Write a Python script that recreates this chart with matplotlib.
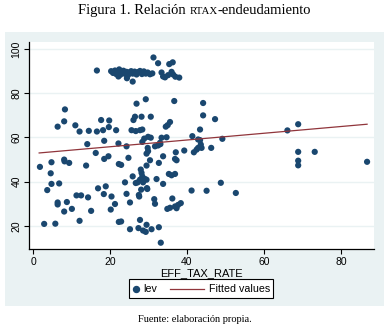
import matplotlib
matplotlib.use("Agg")
import matplotlib.pyplot as plt
from matplotlib.patches import Rectangle
from matplotlib.lines import Line2D

# ---- data ----
eff_tax_rate = [
    1.8, 4.8, 4.6, 4.8, 6.8, 3.7, 6.4, 6.4, 8.8, 8.1, 10.1, 2.9, 5.8, 12.1, 8.1, 8.2, 9.4, 13.8,
    11.3, 12.5, 14.3, 15.1, 16.9, 18.9, 18.4, 20.4, 20.2, 21.3, 16.3, 18.5, 19.6, 14.1, 18.5, 22.2,
    8.3, 8.1, 6.4, 11.0, 12.1, 14.5, 16.6, 17.7, 18.2, 19.8, 19.7, 21.6, 16.6, 22.3, 22.9, 22.3,
    24.3, 24.8, 29.8, 29.9, 29.5, 30.4, 31.7, 32.5, 33.1, 33.8, 32.7, 29.5, 37.1, 36.9, 37.3, 39.3,
    41.8, 42.5, 42.9, 43.6, 25.9, 23.9, 28.0, 28.2, 28.4, 29.1, 27.8, 27.2, 26.7, 28.6, 29.5, 32.1,
    33.8, 35.3, 36.0, 36.9, 24.3, 28.1, 29.7, 27.6, 25.2, 31.5, 31.7, 36.2, 34.9, 36.9, 37.3, 37.7,
    38.4, 41.2, 22.9, 27.8, 25.2, 27.4, 28.6, 29.3, 30.8, 29.5, 32.7, 33.2, 29.6, 27.5, 35.6,
    31.3, 32.5, 35.4, 36.3, 33.4, 33.8, 34.3, 35.1, 36.0, 36.4, 37.0, 38.0, 25.9, 26.9, 29.3, 36.7,
    44.2, 26.5, 26.1, 28.2, 30.6, 44.2, 25.6, 26.7, 27.8, 28.4, 34.5, 35.0, 35.6, 41.4, 42.9, 28.9,
    29.9, 30.6, 33.4, 34.7, 28.4, 33.0, 47.3, 43.4, 43.4, 49.2, 43.8, 46.3, 66.1, 68.9, 68.9, 73.2,
    68.9, 68.9, 86.8, 48.8, 45.1, 52.7,
    20.3, 20.8, 21.3, 21.6, 22.0, 22.4, 22.7, 23.1, 23.5, 23.9, 24.3, 24.7, 25.0, 25.5, 25.9, 26.4,
    26.9, 27.3, 27.8, 28.3, 28.8, 29.3, 29.8, 30.4, 31.0, 24.4, 22.2,
]
lev = [
    46.7, 48.8, 43.8, 39.0, 39.2, 36.2, 30.6, 29.7, 30.8, 26.5, 27.7, 20.9, 21.0, 22.3, 50.0, 49.2, 48.5, 47.3,
    33.8, 33.8, 32.9, 26.8, 37.0, 37.9, 34.4, 33.3, 27.4, 29.9, 53.0, 50.3, 51.5, 57.0, 58.5, 57.3,
    72.7, 67.3, 64.9, 65.5, 62.7, 63.0, 62.7, 67.9, 63.3, 67.7, 64.7, 63.3, 90.3, 48.0, 47.6, 21.8,
    56.0, 50.8, 55.3, 53.8, 52.7, 49.7, 56.0, 56.4, 57.0, 51.5, 48.5, 47.3, 53.3, 50.3, 49.7, 54.1,
    53.3, 54.5, 55.3, 56.8, 42.4, 39.7, 45.5, 44.0, 42.4, 41.2, 40.9, 39.7, 39.4, 39.7, 40.9, 41.2,
    39.0, 43.5, 42.9, 43.5, 34.5, 36.4, 36.7, 33.3, 30.6, 32.1, 30.0, 32.4, 27.7, 28.8, 28.0, 29.5,
    30.3, 36.0, 22.0, 22.7, 18.5, 19.0, 17.9, 17.3, 18.5, 20.5, 19.4, 12.4, 37.1, 34.0, 28.2,
    96.2, 93.6, 93.2, 94.0, 89.4, 87.6, 87.2, 88.2, 89.7, 88.5, 87.5, 87.1, 85.3, 75.3, 77.3, 76.5,
    75.6, 69.4, 67.9, 69.4, 69.4, 70.0, 63.3, 62.9, 63.3, 63.6, 64.9, 65.6, 67.0, 60.6, 59.1, 59.5,
    60.3, 59.9, 59.9, 60.1, 58.0, 57.6, 68.3, 63.6, 58.8, 59.4, 55.3, 55.3, 63.2, 66.0, 53.5, 53.5,
    49.5, 47.4, 49.0, 39.5, 35.9, 34.9,
    90.0, 89.2, 90.3, 88.7, 89.6, 90.8, 88.4, 89.3, 90.2, 88.8, 89.7, 88.2, 89.4, 90.0, 88.9, 89.8,
    88.5, 89.6, 90.1, 88.7, 89.9, 88.9, 89.4, 88.6, 89.0, 86.8, 87.6,
]
fit_x = [1.6, 86.8]
fit_y = [53.0, 66.0]
x_ticks = [0, 20, 40, 60, 80]
y_ticks = [20, 40, 60, 80, 100]
legend_labels = ["lev", "Fitted values"]

NAVY = "#1a476f"
MAROON = "#90353b"
BG = "#eaf2f3"

W, H = 390, 331
fig = plt.figure(figsize=(W / 100, H / 100), dpi=100)
fig.patch.set_facecolor("white")

def fx(px):
    return px / W

def fy(py):
    return 1 - py / H

# graph region background
fig.patches.append(Rectangle((fx(5), fy(306)), 379 / W, 274 / H,
                             transform=fig.transFigure, facecolor=BG,
                             edgecolor="none", zorder=0))

ax = fig.add_axes([fx(29), fy(249), 345 / W, 207 / H])
ax.set_facecolor("white")
ax.set_zorder(1)

ax.set_xlim(-1.04, 88.6)
ax.set_ylim(9.55, 103.2)
for y in y_ticks:
    ax.axhline(y, color=BG, lw=1.0, zorder=0)

ax.scatter(eff_tax_rate, lev, s=20, color=NAVY, edgecolors="none", zorder=3)
ax.plot(fit_x, fit_y, color=MAROON, lw=0.9, zorder=4)

for s in ["top", "right"]:
    ax.spines[s].set_visible(False)
for s in ["left", "bottom"]:
    ax.spines[s].set_color("black")
    ax.spines[s].set_linewidth(0.9)

ax.set_xticks(x_ticks)
ax.set_yticks(y_ticks)
ax.tick_params(axis="both", direction="out", length=3.5, width=0.8, labelsize=7.5,
               colors="black", pad=2)
for lbl in ax.get_yticklabels():
    lbl.set_rotation(90)
    lbl.set_va("center")
for lbl in ax.get_xticklabels() + ax.get_yticklabels():
    lbl.set_fontfamily("Liberation Sans")

ax.set_xlabel("EFF_TAX_RATE", fontsize=8, family="Liberation Sans", labelpad=1)

# manual legend box (Stata style)
fig.patches.append(Rectangle((fx(129), fy(298)), 144 / W, 19 / H,
                             transform=fig.transFigure, facecolor="white",
                             edgecolor="black", lw=0.8, zorder=2))
ly = fy(288.5)
fig.lines.append(Line2D([fx(135.5)], [ly], marker="o", markersize=4.3, color=NAVY,
                        linestyle="none", transform=fig.transFigure, zorder=3))
fig.text(fx(143), ly, legend_labels[0], fontsize=7.7, family="Liberation Sans",
         ha="left", va="center", zorder=3)
fig.lines.append(Line2D([fx(170), fx(204)], [ly, ly], color=MAROON, lw=0.9,
                        transform=fig.transFigure, zorder=3))
fig.text(fx(209), ly, legend_labels[1], fontsize=7.7, family="Liberation Sans",
         ha="left", va="center", zorder=3)

# title with small caps segment
renderer = fig.canvas.get_renderer()
parts = [("Figura 1. Relación ", 10.5), ("RTAX", 7.8), ("-endeudamiento", 10.5)]
texts = []
total = 0
for s, fs in parts:
    t = fig.text(0, fy(14), s, fontsize=fs, family="Liberation Serif",
                 ha="left", va="baseline")
    w = t.get_window_extent(renderer).width
    texts.append((t, w))
    total += w
x0 = (W - total) / 2
for t, w in texts:
    t.set_x(x0 / W)
    x0 += w

fig.text(0.5, fy(320), "Fuente: elaboración propia.", fontsize=7.5,
         family="Liberation Serif", ha="center", va="center")

fig.savefig("out.png", dpi=100, facecolor="white")
